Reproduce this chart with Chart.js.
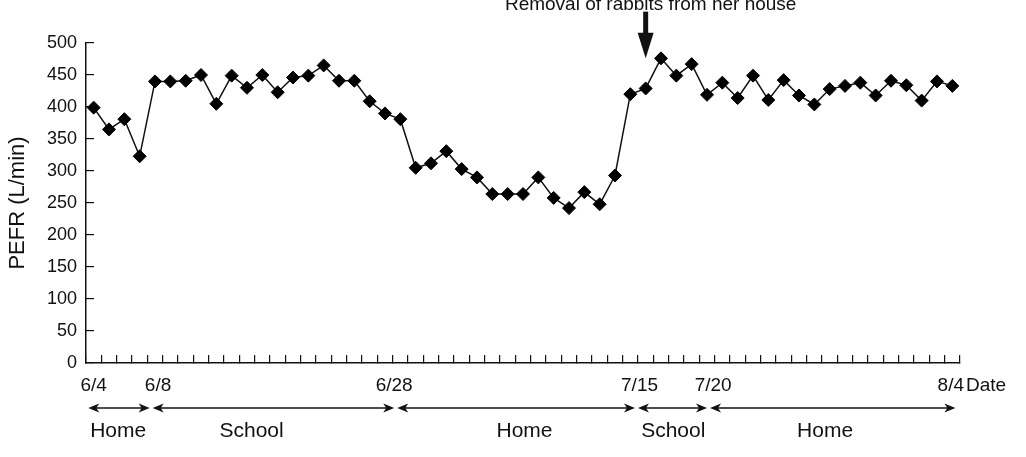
<!DOCTYPE html>
<html>
<head>
<meta charset="utf-8">
<script src="https://cdn.jsdelivr.net/npm/chart.js@4.4.1/dist/chart.umd.min.js"></script>
<style>
  html, body { margin: 0; padding: 0; background: #fff; }
</style>
</head>
<body>
<canvas id="pefr-chart" width="1026" height="457"></canvas>
<script>
const pefrValues = [
  399, 365, 381, 323, 440, 440, 441, 450, 405, 449,
  430, 450, 423, 446, 449, 465, 441, 441, 409, 390,
  381, 305, 312, 331, 303, 290, 264, 264, 264, 290,
  258, 242, 267, 248, 293, 420, 429, 476, 449, 467,
  419, 438, 414, 449, 411, 442, 418, 404, 428, 433,
  438, 418, 441, 434, 410, 440, 433
];
const readingLabels = pefrValues.map((_, i) => 'Reading ' + (i + 1));

// date labels under the axis, placed at reading index
const dateLabels = ['6/4', '6/8', '6/28', '7/15', '7/20', '8/4'];
const dateAt = [0, 4.2, 19.6, 35.6, 40.4, 55.9];

// where she stayed, bounds in reading index
const periodNames = ['Home', 'School', 'Home', 'School', 'Home'];
const periodBounds = [-0.45, 3.75, 19.7, 35.4, 40.1, 56.3];
const periodLabelAt = [1.6, 10.3, 28.1, 37.8, 47.7];

const eventText = 'Removal of rabbits from her house';
const eventIndex = 36;

const INK = '#111';
const FONT = '"Liberation Sans", Arial, sans-serif';

function drawHead(ctx, tipX, y, dir) {
  // dir = 1 points right, -1 points left
  const len = 11, half = 4.5, notch = 3;
  ctx.beginPath();
  ctx.moveTo(tipX, y);
  ctx.lineTo(tipX - dir * len, y - half);
  ctx.lineTo(tipX - dir * (len - notch), y);
  ctx.lineTo(tipX - dir * len, y + half);
  ctx.closePath();
  ctx.fill();
}

const annotations = {
  id: 'annotations',
  afterDraw(chart) {
    const { ctx, scales: { x, y } } = chart;
    ctx.save();
    ctx.fillStyle = INK;
    ctx.strokeStyle = INK;

    // dates
    ctx.font = '19px ' + FONT;
    ctx.textBaseline = 'middle';
    ctx.textAlign = 'center';
    const dateY = y.bottom + 23;
    dateLabels.forEach((t, i) => ctx.fillText(t, x.getPixelForValue(dateAt[i]), dateY));
    ctx.textAlign = 'left';
    ctx.fillText('Date', x.right + 6, dateY);

    // home / school arrows
    const arrowY = y.bottom + 45;
    ctx.lineWidth = 1.5;
    ctx.font = '21px ' + FONT;
    ctx.textAlign = 'center';
    for (let i = 0; i < periodNames.length; i++) {
      const x0 = x.getPixelForValue(periodBounds[i]) + 1.5;
      const x1 = x.getPixelForValue(periodBounds[i + 1]) - 1.5;
      ctx.beginPath();
      ctx.moveTo(x0 + 4, arrowY);
      ctx.lineTo(x1 - 4, arrowY);
      ctx.stroke();
      drawHead(ctx, x0, arrowY, -1);
      drawHead(ctx, x1, arrowY, 1);
      ctx.fillText(periodNames[i], x.getPixelForValue(periodLabelAt[i]), y.bottom + 68);
    }

    // event marker
    const ex = x.getPixelForValue(eventIndex);
    const shaftTop = y.getPixelForValue(549);
    const headTop = y.getPixelForValue(516);
    const tip = y.getPixelForValue(476);
    ctx.fillRect(ex - 2.5, shaftTop, 5, headTop - shaftTop + 1);
    ctx.beginPath();
    ctx.moveTo(ex - 8, headTop);
    ctx.lineTo(ex + 8, headTop);
    ctx.lineTo(ex, tip);
    ctx.closePath();
    ctx.fill();
    ctx.font = '19px ' + FONT;
    ctx.textBaseline = 'alphabetic';
    ctx.fillText(eventText, ex + 5, y.top - 33);

    ctx.restore();
  }
};

new Chart(document.getElementById('pefr-chart'), {
  type: 'line',
  data: {
    labels: readingLabels,
    datasets: [{
      data: pefrValues,
      borderColor: INK,
      borderWidth: 1.5,
      tension: 0,
      pointStyle: 'rectRot',
      pointRadius: 6.5,
      pointBackgroundColor: '#000',
      pointBorderColor: '#000',
      pointBorderWidth: 1
    }]
  },
  options: {
    responsive: false,
    animation: false,
    layout: { padding: { left: 0, right: 66, top: 43, bottom: 0 } },
    plugins: { legend: { display: false }, tooltip: { enabled: false } },
    scales: {
      x: {
        type: 'category',
        offset: true,
        grid: { offset: true, drawOnChartArea: false, tickLength: -8, color: INK, lineWidth: 1.2 },
        border: { color: INK, width: 1.5 },
        ticks: { display: false, autoSkip: false },
        afterFit(scale) { scale.height = 94; }
      },
      y: {
        min: 0,
        max: 500,
        ticks: { stepSize: 50, padding: 17, color: INK, font: { family: FONT, size: 18 } },
        grid: { drawOnChartArea: false, tickLength: -8, color: INK, lineWidth: 1.2 },
        border: { color: INK, width: 1.5 },
        title: { display: true, text: 'PEFR (L/min)', color: INK, font: { family: FONT, size: 22 }, padding: { top: 5, bottom: 0 } },
        afterFit(scale) { scale.width = 86; }
      }
    }
  },
  plugins: [annotations]
});
</script>
</body>
</html>
